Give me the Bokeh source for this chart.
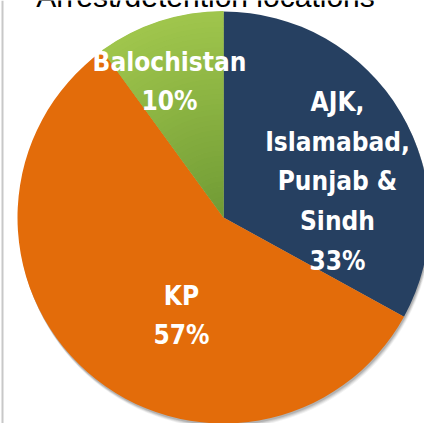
import numpy as np
from bokeh.plotting import figure
from bokeh.models import Label, Span, ColumnDataSource
from bokeh.core.properties import value
from bokeh.embed import file_html
from bokeh.resources import INLINE

# ---- data ----
title_text = "Arrest/detention locations"
categories = ["AJK,\nIslamabad,\nPunjab &\nSindh", "KP", "Balochistan"]
shares = [33, 57, 10]

# ---- style ----
W, H = 424, 423
colors = ["#264061", "#e36c0a", "#8fb746"]
cx, cy_px, R = 223, 217, 206
cy = H - cy_px
label_px = [(337, 181), (181, 315), (169, 81)]
label_font = value("'DejaVu Sans Condensed', 'DejaVu Sans'")

vals = np.array(shares, dtype=float)
frac = vals / vals.sum()
cum = np.concatenate([[0.0], np.cumsum(frac)])
start = np.pi / 2 - 2 * np.pi * cum[:-1]
end = np.pi / 2 - 2 * np.pi * cum[1:]

p = figure(width=W, height=H, x_range=(0, W), y_range=(0, H),
           output_backend="svg", toolbar_location=None,
           min_border=0, border_fill_color="white", background_fill_color="white",
           outline_line_color=None)
p.axis.visible = False
p.grid.visible = False

# soft shadow
for off, a in [(5, 0.05), (4, 0.07), (3, 0.09), (2, 0.12)]:
    p.circle(x=[cx + off * 0.4], y=[cy - off], radius=R, fill_color="#000000",
             fill_alpha=a, line_color=None)

src = ColumnDataSource(dict(start=start, end=end, color=colors))
p.wedge(x=cx, y=cy, radius=R, start_angle="start", end_angle="end",
        direction="clock", fill_color="color", line_color=None, source=src)

# green gradient approximation (lighter toward the rim)
gi = 2
nb = 40
g_dark = np.array([0x70, 0x9b, 0x35])
g_light = np.array([0xa0, 0xc6, 0x4d])
for k in range(nb):
    r0 = R * k / nb
    r1 = R * (k + 1) / nb
    t = (k + 0.5) / nb
    c = (g_dark + (g_light - g_dark) * t).astype(int)
    col = "#%02x%02x%02x" % tuple(c)
    p.annular_wedge(x=cx, y=cy, inner_radius=r0, outer_radius=r1 + 0.6,
                    start_angle=start[gi], end_angle=end[gi], direction="clock",
                    fill_color=col, line_color=None)

# slice labels
lx = [q[0] for q in label_px]
ly = [H - q[1] for q in label_px]
ltext = [f"{c}\n{s}%" for c, s in zip(categories, shares)]
p.text(x=lx, y=ly, text=ltext, text_color="white", text_font=label_font,
       text_font_style="bold", text_font_size="26px", text_align="center",
       text_baseline="middle", text_line_height=1.33)

# title (cut at the top, as in the source slide)
p.add_layout(Label(x=205, y=H + 4, text=title_text, text_font="Liberation Sans",
                   text_font_size="30px", text_align="center",
                   text_baseline="alphabetic", text_color="#000000"))

# frame edge on the left
p.add_layout(Span(location=2, dimension="height", line_color="#c8c8c8", line_width=2))

open("out.html", "w").write(file_html(p, INLINE))
